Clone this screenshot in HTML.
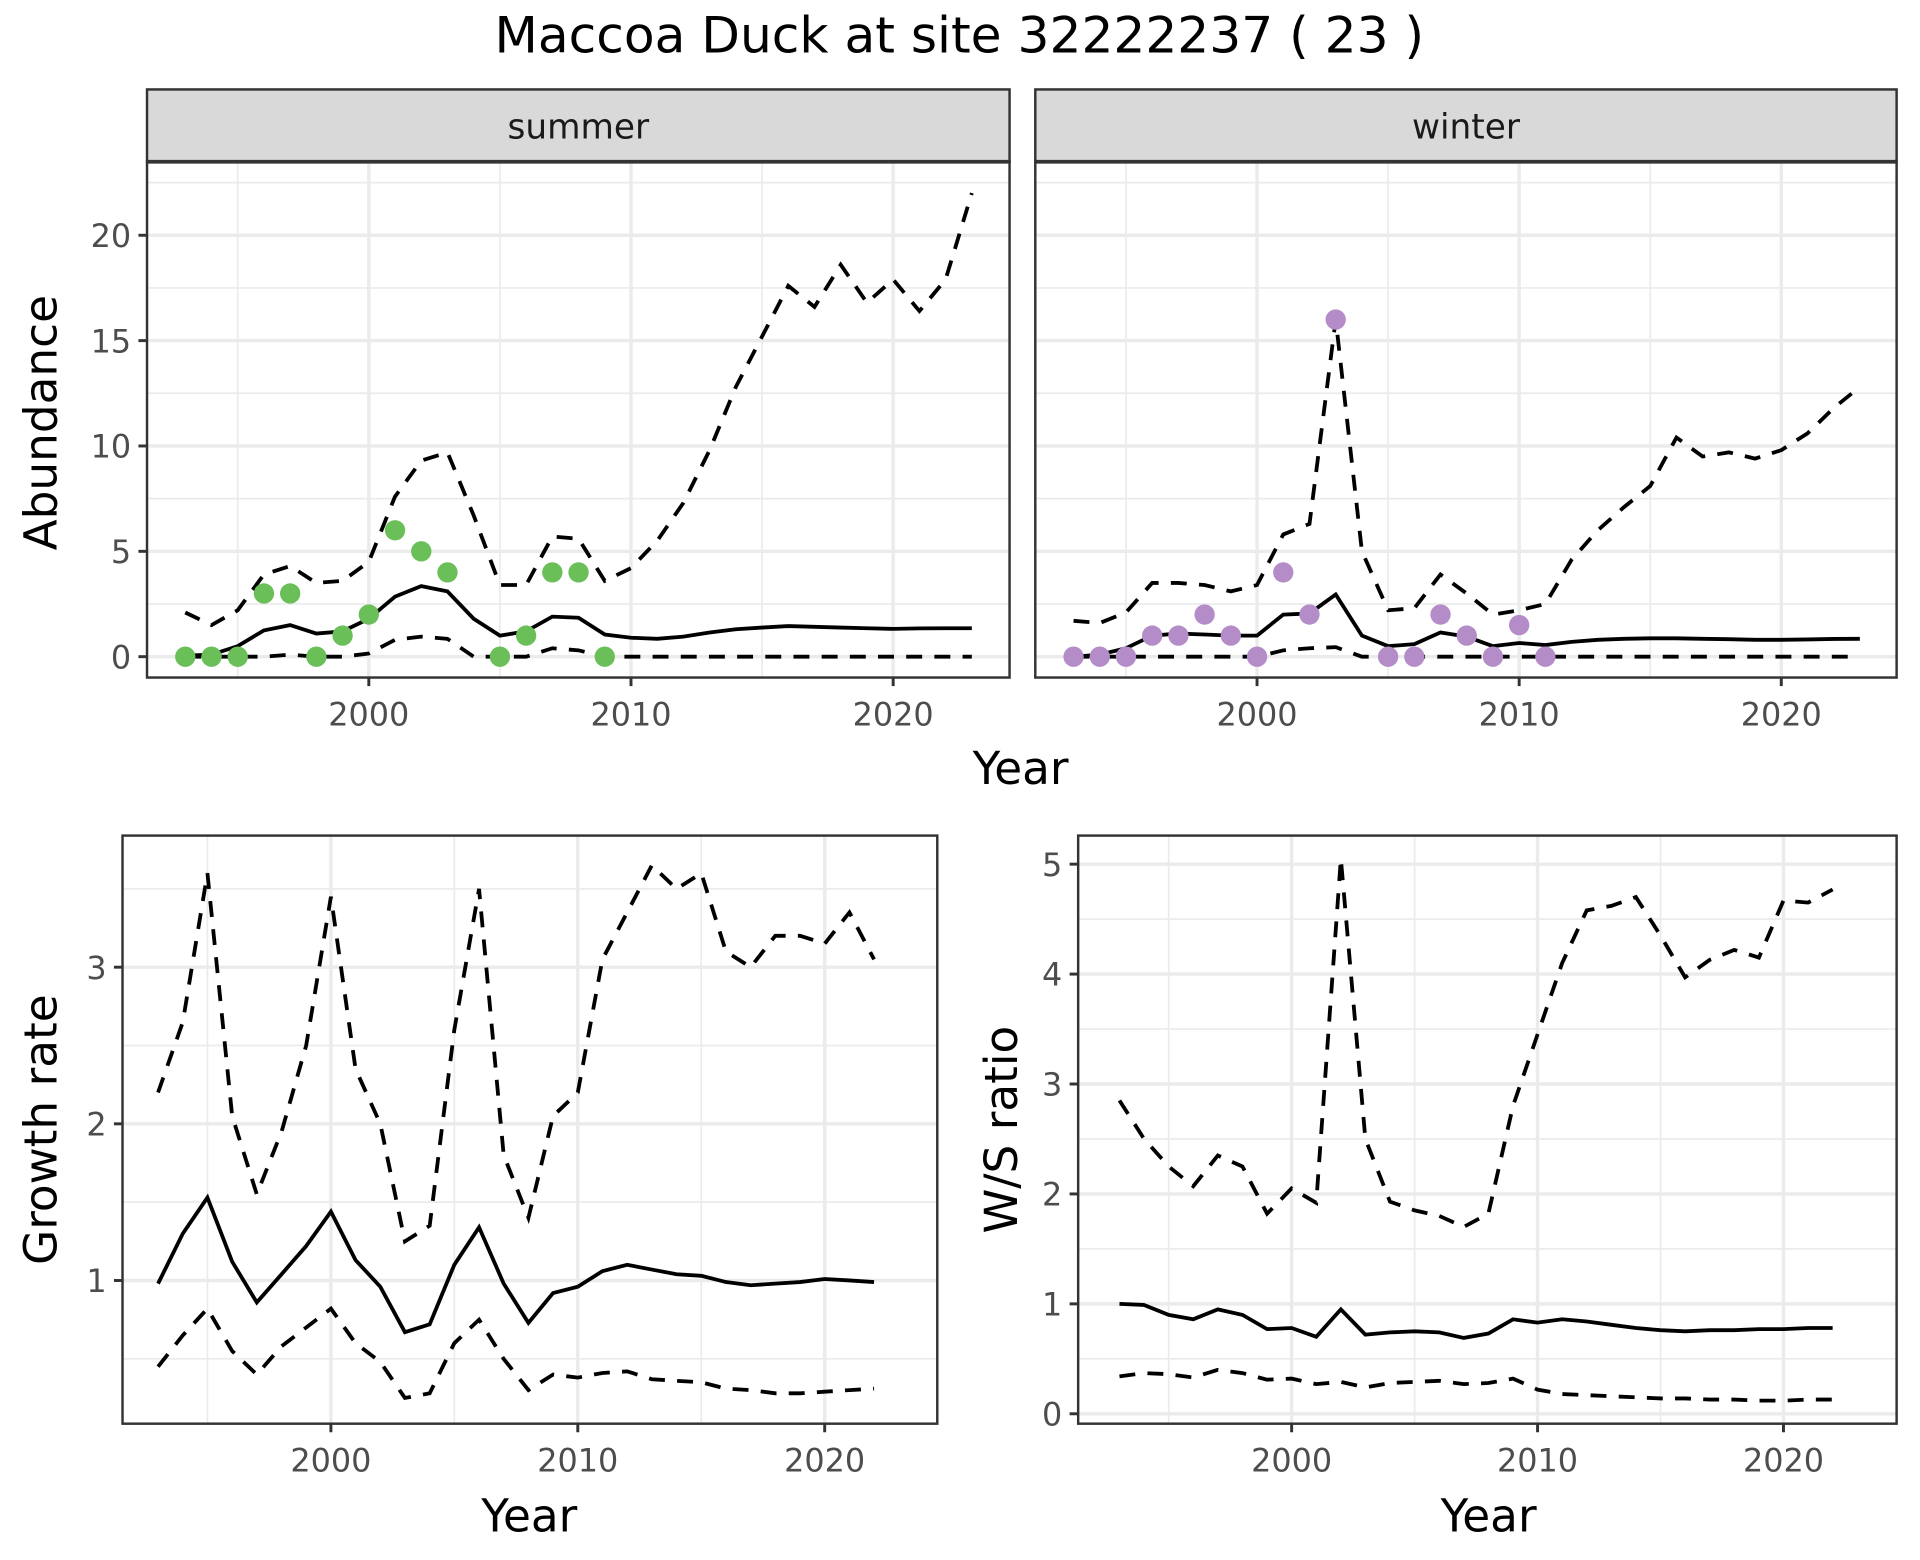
<!DOCTYPE html>
<html><head><meta charset="utf-8"><style>
html,body{margin:0;padding:0;background:#fff;width:1920px;height:1560px;overflow:hidden}
#wrap{width:1568px;height:1274px;transform:scale(1.2252);transform-origin:0 0}
text{font-family:"DejaVu Sans","Liberation Sans",sans-serif}
</style></head><body>
<div id="wrap">
<svg id="svg" width="1568" height="1274" xmlns="http://www.w3.org/2000/svg">
<text x="783" y="43" font-size="41" text-anchor="middle" fill="#000">Maccoa Duck at site 32222237 ( 23 )</text>
</svg>
</div>
<script>
const years = [1993,1994,1995,1996,1997,1998,1999,2000,2001,2002,2003,2004,2005,2006,2007,2008,2009,2010,2011,2012,2013,2014,2015,2016,2017,2018,2019,2020,2021,2022,2023];
const summerObsYears = [1993,1994,1995,1996,1997,1998,1999,2000,2001,2002,2003,2005,2006,2007,2008,2009];
const summerObs = [0,0,0,3,3,0,1,2,6,5,4,0,1,4,4,0];
const summerMean = [0.05,0.1,0.5,1.25,1.5,1.1,1.2,1.8,2.85,3.35,3.1,1.8,1.0,1.2,1.9,1.85,1.05,0.9,0.85,0.95,1.15,1.3,1.38,1.45,1.42,1.38,1.35,1.32,1.34,1.35,1.35];
const summerUpper = [2.1,1.5,2.2,3.9,4.3,3.5,3.6,4.5,7.6,9.3,9.7,6.7,3.4,3.4,5.7,5.6,3.6,4.2,5.5,7.3,9.8,12.8,15.2,17.6,16.6,18.6,16.8,17.9,16.4,17.9,22];
const summerLower = [0,0,0,0,0.1,0,0,0.15,0.8,0.95,0.85,0,0,0,0.4,0.3,0,0,0,0,0,0,0,0,0,0,0,0,0,0,0];
const winterObsYears = [1993,1994,1995,1996,1997,1998,1999,2000,2001,2002,2003,2005,2006,2007,2008,2009,2010,2011];
const winterObs = [0,0,0,1,1,2,1,0,4,2,16,0,0,2,1,0,1.5,0];
const winterMean = [0,0.1,0.4,1.0,1.1,1.05,1.0,1.0,2.0,2.05,2.95,1.0,0.5,0.6,1.15,0.95,0.5,0.65,0.55,0.7,0.8,0.85,0.87,0.87,0.85,0.83,0.8,0.8,0.82,0.84,0.85];
const winterUpper = [1.7,1.6,2.1,3.5,3.5,3.4,3.1,3.4,5.8,6.3,16.0,5.0,2.2,2.3,3.9,3.0,2.0,2.2,2.5,4.6,6.0,7.1,8.1,10.4,9.5,9.7,9.4,9.8,10.6,11.8,12.8];
const winterLower = [0,0,0,0,0,0,0,0,0.3,0.4,0.45,0,0,0,0,0,0,0,0,0,0,0,0,0,0,0,0,0,0,0,0];
const years2 = [1993,1994,1995,1996,1997,1998,1999,2000,2001,2002,2003,2004,2005,2006,2007,2008,2009,2010,2011,2012,2013,2014,2015,2016,2017,2018,2019,2020,2021,2022];
const growthMean = [0.98,1.3,1.53,1.12,0.86,1.04,1.22,1.44,1.13,0.96,0.67,0.72,1.1,1.34,0.98,0.73,0.92,0.96,1.06,1.1,1.07,1.04,1.03,0.99,0.97,0.98,0.99,1.01,1.0,0.99];
const growthUpper = [2.2,2.65,3.6,2.05,1.55,1.95,2.5,3.45,2.35,2.0,1.25,1.35,2.6,3.5,1.8,1.4,2.05,2.2,3.05,3.35,3.65,3.5,3.6,3.1,3.0,3.2,3.2,3.15,3.35,3.05];
const growthLower = [0.45,0.65,0.82,0.55,0.4,0.58,0.7,0.82,0.6,0.48,0.25,0.28,0.6,0.75,0.5,0.3,0.4,0.38,0.41,0.42,0.37,0.36,0.35,0.31,0.3,0.28,0.28,0.29,0.3,0.31];
const ratioMean = [1.0,0.99,0.9,0.86,0.95,0.9,0.77,0.78,0.7,0.95,0.72,0.74,0.75,0.74,0.69,0.73,0.86,0.83,0.86,0.84,0.81,0.78,0.76,0.75,0.76,0.76,0.77,0.77,0.78,0.78];
const ratioUpper = [2.85,2.5,2.25,2.07,2.35,2.25,1.82,2.05,1.92,5.05,2.5,1.93,1.85,1.8,1.7,1.82,2.8,3.45,4.1,4.58,4.62,4.7,4.35,3.97,4.13,4.22,4.15,4.67,4.65,4.77];
const ratioLower = [0.34,0.37,0.36,0.33,0.4,0.37,0.31,0.32,0.27,0.29,0.24,0.28,0.29,0.3,0.27,0.28,0.32,0.22,0.18,0.17,0.16,0.15,0.14,0.14,0.13,0.13,0.12,0.12,0.13,0.13];
const xTicks = [2000,2010,2020];
const abundTicks = [0,5,10,15,20];
const growthTicks = [1,2,3];
const ratioTicks = [0,1,2,3,4,5];

const svg = document.getElementById('svg');
const NS = 'http://www.w3.org/2000/svg';
function mk(tag, attrs, parent){const e=document.createElementNS(NS,tag);for(const k in attrs)e.setAttribute(k,attrs[k]);(parent||svg).appendChild(e);return e;}

function panel(p){
  const g = mk('g',{});
  
  
  const sx = v => p.x0 + (v - p.xmin)/(p.xmax - p.xmin)*(p.x1 - p.x0);
  const sy = v => p.y1 - (v - p.ymin)/(p.ymax - p.ymin)*(p.y1 - p.y0);
  for (let i=0;i<xTicks.length+1;i++){
    const v = xTicks[0] - 5 + i*10;
    if (v>p.xmin && v<p.xmax) mk('line',{x1:sx(v),x2:sx(v),y1:p.y0,y2:p.y1,stroke:'#ebebeb','stroke-width':1.4},g);
  }
  const yt = p.yticks; const step = yt.length>1 ? yt[1]-yt[0] : 1;
  for (let v=yt[0]-step/2; v<p.ymax; v+=step){
    if (v>p.ymin) mk('line',{x1:p.x0,x2:p.x1,y1:sy(v),y2:sy(v),stroke:'#ebebeb','stroke-width':1.4},g);
  }
  xTicks.forEach(v=>mk('line',{x1:sx(v),x2:sx(v),y1:p.y0,y2:p.y1,stroke:'#ebebeb','stroke-width':2.8},g));
  yt.forEach(v=>mk('line',{x1:p.x0,x2:p.x1,y1:sy(v),y2:sy(v),stroke:'#ebebeb','stroke-width':2.8},g));
  const path = (xs,ys)=>xs.map((x,i)=>(i?'L':'M')+sx(x).toFixed(1)+','+sy(ys[i]).toFixed(1)).join('');
  const up = mk('path',{d:path(p.xs,p.upper),fill:'none',stroke:'#000','stroke-width':3.1,'stroke-dasharray':'13 10'},g);
  
  
  const lo = mk('path',{d:path(p.xs,p.lower),fill:'none',stroke:'#000','stroke-width':3.1,'stroke-dasharray':'13 10'},g);
  
  
  const mn = mk('path',{d:path(p.xs,p.mean),fill:'none',stroke:'#000','stroke-width':3.1},g);
  
  
  if (p.obsX){
    p.obsX.forEach((x,i)=>{
      const c = mk('circle',{cx:sx(x),cy:sy(p.obsY[i]),r:8.3,fill:p.color},g);
      
      
    });
  }
  mk('rect',{x:p.x0,y:p.y0,width:p.x1-p.x0,height:p.y1-p.y0,fill:'none',stroke:'#333','stroke-width':2},g);
  xTicks.forEach(v=>{
    mk('line',{x1:sx(v),x2:sx(v),y1:p.y1,y2:p.y1+7,stroke:'#333','stroke-width':2.4},g);
    const t = mk('text',{x:sx(v),y:p.y1+39,'font-size':26,'text-anchor':'middle',fill:'#4d4d4d'},g);
    t.textContent = v;
    
    
  });
  if (p.showY){
    yt.forEach(v=>{
      mk('line',{x1:p.x0-7,x2:p.x0,y1:sy(v),y2:sy(v),stroke:'#333','stroke-width':2.4},g);
      const t = mk('text',{x:p.x0-13,y:sy(v)+9.5,'font-size':26,'text-anchor':'end',fill:'#4d4d4d'},g);
      t.textContent = v;
      
      
    });
  }
  if (p.strip){
    mk('rect',{x:p.x0,y:73,width:p.x1-p.x0,height:p.y0-73,fill:'#d9d9d9',stroke:'#333','stroke-width':2},g);
    mk('line',{x1:p.x0,x2:p.x1,y1:p.y0,y2:p.y0,stroke:'#333','stroke-width':3},g);
    const t = mk('text',{x:(p.x0+p.x1)/2,y:113,'font-size':28,'text-anchor':'middle',fill:'#1a1a1a'},g);
    t.textContent = p.strip;
    
    
  }
}
panel({name:'summer-panel',x0:120,x1:824,y0:132,y1:553,xmin:1991.54,xmax:2024.44,ymin:-0.99,ymax:23.49,yticks:abundTicks,showY:true,xs:years,mean:summerMean,upper:summerUpper,lower:summerLower,obsX:summerObsYears,obsY:summerObs,color:'#6abf59',strip:'summer'});
panel({name:'winter-panel',x0:845,x1:1548,y0:132,y1:553,xmin:1991.54,xmax:2024.4,ymin:-0.99,ymax:23.49,yticks:abundTicks,showY:false,xs:years,mean:winterMean,upper:winterUpper,lower:winterLower,obsX:winterObsYears,obsY:winterObs,color:'#b48cc8',strip:'winter'});
panel({name:'growth-rate-panel',x0:100,x1:765,y0:682,y1:1162,xmin:1991.56,xmax:2024.56,ymin:0.086,ymax:3.84,yticks:growthTicks,showY:true,xs:years2,mean:growthMean,upper:growthUpper,lower:growthLower});
panel({name:'ws-ratio-panel',x0:880,x1:1548,y0:682,y1:1162,xmin:1991.32,xmax:2024.6,ymin:-0.09,ymax:5.26,yticks:ratioTicks,showY:true,xs:years2,mean:ratioMean,upper:ratioUpper,lower:ratioLower});

function label(txt,x,y,rot,name){
  const t = mk('text',{x:x,y:y,'font-size':37,'text-anchor':'middle',fill:'#000',transform:rot?`rotate(-90 ${x} ${y})`:''});
  t.textContent = txt;
  
  
}
label('Year',833,640,false,'top-x-axis-title');
label('Abundance',46,345,true,'abundance-y-axis-title');
label('Year',432,1250,false,'growth-x-axis-title');
label('Growth rate',46,922,true,'growth-y-axis-title');
label('Year',1215,1250,false,'ratio-x-axis-title');
label('W/S ratio',830,922,true,'ratio-y-axis-title');
</script>
</body></html>
